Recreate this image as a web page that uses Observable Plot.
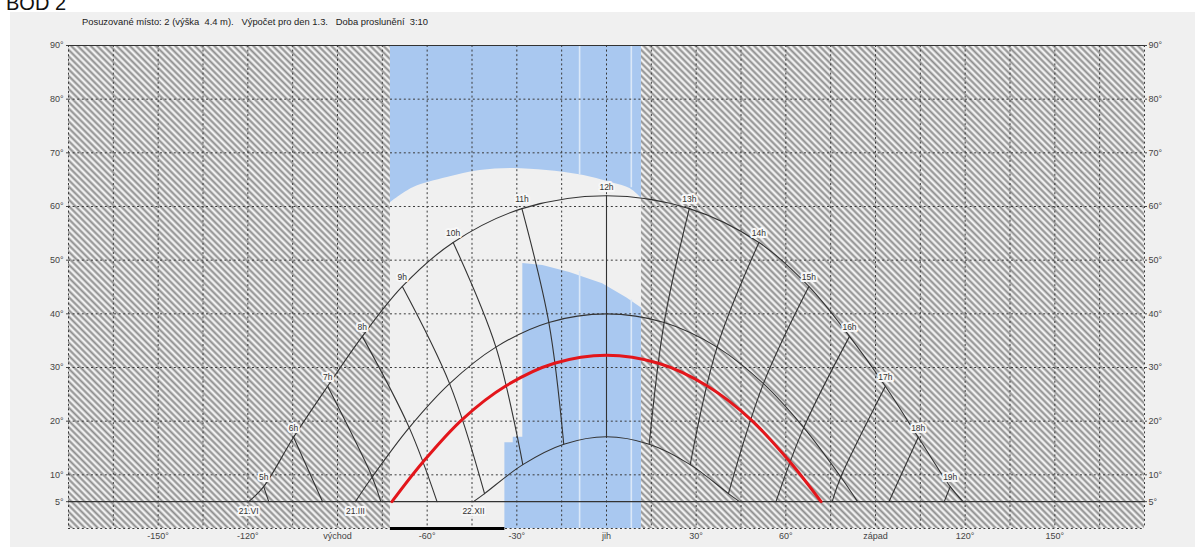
<!DOCTYPE html>
<html><head><meta charset="utf-8">
<script src="https://cdn.jsdelivr.net/npm/d3@7"></script>
<script src="https://cdn.jsdelivr.net/npm/@observablehq/plot@0.6"></script>
<style>
html,body{margin:0;padding:0;background:#fff;width:1201px;height:547px;overflow:hidden;font-family:"Liberation Sans",Arial,sans-serif;}
#bg{position:absolute;left:10px;top:12px;width:1185px;height:535px;background:#f0f0f0;}
#bod{position:absolute;left:6px;top:-7px;font-size:20px;color:#111;line-height:1;}
#sub{position:absolute;left:82px;top:17px;font-size:9.4px;line-height:10px;color:#222;white-space:pre;}
#chart{position:absolute;left:0;top:30px;}
</style></head><body>
<div id="bg"></div>
<div id="bod">BOD 2</div>
<div id="sub">Posuzované místo: 2 (výška  4.4 m).   Výpočet pro den 1.3.   Doba proslunění  3:10</div>
<div id="chart"></div>
<script>
// ---- sun paths [azimuth (0 = south, east negative), altitude] ----
const path21VI = [[-119.7,5],[-114.7,7.8],[-104.7,17.0],[-93.3,26.5],[-81.7,35.8],[-68.3,45.1],[-51.3,53.3],[-28.3,59.6],[0,62.0],[27.7,59.6],[51,53.3],[67.7,45.1],[81.3,35.8],[93.3,26.5],[104.3,17.0],[115,7.8],[119.3,5]];
const path21III = [[-84,5],[-78.4,9.6],[-66,18.8],[-52.5,27],[-37,33.8],[-19.3,38.4],[0,40],[19.3,38.4],[37,33.8],[52.5,27],[66,18.8],[78.4,9.6],[84,5]];
const path22XII = [[-44.5,5],[-40.8,6.5],[-28,11.9],[-14.3,15.7],[0,17.1],[14.3,15.7],[28,11.9],[40.8,6.5],[44.5,5]];
const path1III = [[-71.8,5],[-61.4,12.4],[-48.3,20.3],[-33.6,26.6],[-17.4,30.8],[0,32.3],[17.4,30.8],[33.6,26.6],[48.3,20.3],[61.4,12.4],[71.8,5]];

// ---- hour lines (summer -> equinox -> winter / 5° cut) ----
const hourNames = ["5h","6h","7h","8h","9h","10h","11h","12h","13h","14h","15h","16h","17h","18h","19h"];
const hourLines = [
  [[-114.7,7.8],[-113,5]],
  [[-104.7,17],[-95,5]],
  [[-93.3,26.5],[-78.4,9.6],[-75.5,5]],
  [[-81.7,35.8],[-66,18.8],[-56.7,5]],
  [[-68.3,45.1],[-52.5,27],[-40.8,6.5]],
  [[-51.3,53.3],[-37,33.8],[-28,11.9]],
  [[-28.3,59.6],[-19.3,38.4],[-14.3,15.7]],
  [[0,62],[0,40],[0,17.1]],
  [[27.7,59.6],[19.3,38.4],[14.3,15.7]],
  [[51,53.3],[37,33.8],[28,11.9]],
  [[67.7,45.1],[52.5,27],[40.8,6.5]],
  [[81.3,35.8],[66,18.8],[56.7,5]],
  [[93.3,26.5],[78.4,9.6],[75.5,5]],
  [[104.3,17],[94.5,5]],
  [[115,7.8],[113,5]]
];

// ---- date labels ----
const dateNames = ["21.VI","21.III","22.XII"];
const dateAz = [-119.7,-84,-44.5];

// ---- shaded (hatched) azimuth zones ----
const hatchFrom = [-180, 11.7];
const hatchTo = [-72.3, 180];

// ---- obstruction (blue) outlines ----
const upperObstacle = [[-72.3,60.7],[-64.7,63.5],[-53.3,65.4],[-42.3,66.7],[-31.3,67.1],[-20,66.7],[-9,65.9],[2,64.4],[8,63.3],[11.7,61.5]];
const lowerObstacle = [[-34,16.0],[-31.2,16.0],[-31.2,17.0],[-28,17.0],[-28,49.4],[-21.3,49.0],[-12.3,47.7],[-1.3,45.6],[6.7,43.0],[11.7,41.1]];
const gapAz = [-9, 8.3, -9, 8.3];
const gapFrom = [65.9, 63.5, 0, 0];
const gapTo = [90, 90, 47.9, 42.6];

// ---- axes ----
const xTicks = [-150,-120,-90,-60,-30,0,30,60,90,120,150];
const xTickLabels = ["-150°","-120°","východ","-60°","-30°","jih","30°","60°","západ","120°","150°"];
const yTicks = [5,10,20,30,40,50,60,70,80,90];

const toRows = (pts) => pts.map(p => ({az:p[0], alt:p[1]}));
const hourRows = hourLines.flatMap((pts,i) => pts.map(p => ({h:i, az:p[0], alt:p[1]})));
const hourLabelRows = hourLines.map((pts,i) => ({name:hourNames[i], az:pts[0][0], alt:pts[0][1]}));
const hatchRows = hatchFrom.map((v,i) => ({x1:v, x2:hatchTo[i]}));
const gapRows = gapAz.map((v,i) => ({az:v, y1:gapFrom[i], y2:gapTo[i]}));
const dateRows = dateNames.map((n,i) => ({name:n, az:dateAz[i], alt:5}));

const blue = "#a9c8f0";
const dark = "#333";
const dotted = {stroke:"#3a3a3a", strokeDasharray:"2,2.6", strokeWidth:1};

const svg = Plot.plot({
  width:1201, height:517,
  marginLeft:68, marginRight:57, marginTop:15, marginBottom:19,
  x:{domain:[-180,180]},
  y:{domain:[0,90]},
  style:{background:"none", fontFamily:"Liberation Sans, Arial, sans-serif", fontSize:"9px", overflow:"visible"},
  marks:[
    Plot.rect(hatchRows, {x1:"x1", x2:"x2", y1:0, y2:90, fill:"url(#hatch)"}),
    Plot.areaY(toRows(upperObstacle), {x:"az", y1:"alt", y2:90, fill:blue, curve:"catmull-rom"}),
    Plot.areaY(toRows(lowerObstacle), {x:"az", y1:0, y2:"alt", fill:blue, curve:"linear"}),
    Plot.ruleX(gapRows, {x:"az", y1:"y1", y2:"y2", stroke:"#dbe8f8", strokeWidth:1.6}),
    Plot.ruleX(d3.range(-180,181,15), {...dotted}),
    Plot.ruleY(d3.range(10,81,10), {...dotted}),
    Plot.ruleY([0], {...dotted}),
    Plot.ruleY([0], {x1:-72.3, x2:-34, stroke:"#000", strokeWidth:3}),
    Plot.ruleY([90], {stroke:dark, strokeWidth:1.2}),
    Plot.ruleY([5], {stroke:dark, strokeWidth:1.2}),
    Plot.line(toRows(path21VI), {x:"az", y:"alt", stroke:dark, strokeWidth:1.1, curve:"catmull-rom"}),
    Plot.line(toRows(path21III), {x:"az", y:"alt", stroke:dark, strokeWidth:1.1, curve:"catmull-rom"}),
    Plot.line(toRows(path22XII), {x:"az", y:"alt", stroke:dark, strokeWidth:1.1, curve:"catmull-rom"}),
    Plot.line(hourRows, {x:"az", y:"alt", z:"h", stroke:dark, strokeWidth:1.1, curve:"catmull-rom"}),
    Plot.line(toRows(path1III), {x:"az", y:"alt", stroke:"#e3161b", strokeWidth:3, curve:"catmull-rom"}),
    Plot.text(hourLabelRows, {x:"az", y:"alt", text:"name", dy:-9, fontSize:8.5, fill:"#333", stroke:"#f7f7f7", strokeWidth:4}),
    Plot.text(dateRows, {x:"az", y:"alt", text:"name", dy:10, fontSize:8.5, fill:"#333", stroke:"#f7f7f7", strokeWidth:4}),
    Plot.axisX({ticks:xTicks, tickFormat:(d,i)=>xTickLabels[i], tickSize:0, tickPadding:4, label:null, color:"#444", fontSize:9}),
    Plot.axisY({anchor:"left", ticks:yTicks, tickFormat:d=>d+"°", tickSize:2, tickPadding:3, label:null, color:"#444", fontSize:9}),
    Plot.axisY({anchor:"right", ticks:yTicks, tickFormat:d=>d+"°", tickSize:2, tickPadding:2, label:null, color:"#444", fontSize:9})
  ]
});

const s = d3.select(svg);
const pat = s.insert("defs", ":first-child").append("pattern")
  .attr("id","hatch").attr("patternUnits","userSpaceOnUse")
  .attr("width",4.6).attr("height",4.6).attr("patternTransform","rotate(45)");
pat.append("rect").attr("width",4.6).attr("height",4.6).attr("fill","#f0f0f0");
pat.append("line").attr("x1",0).attr("x2",4.6).attr("y1",2.3).attr("y2",2.3)
  .attr("stroke","#8e8e8e").attr("stroke-width",2);
document.getElementById("chart").appendChild(svg);
</script>
</body></html>
